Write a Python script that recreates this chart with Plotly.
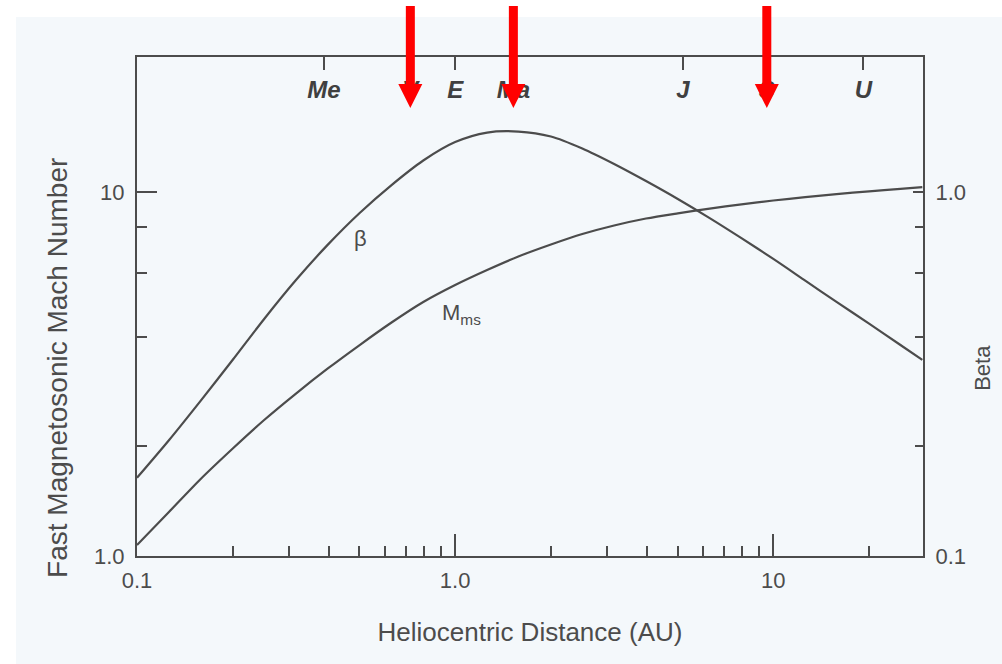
import math
import plotly.graph_objects as go

# ---- data ----
dist_au = [0.1, 0.126, 0.158, 0.2, 0.251, 0.316, 0.398, 0.501, 0.631, 0.794, 1.0, 1.26, 1.58,
           2.0, 2.51, 3.16, 3.98, 5.01, 6.31, 7.94, 10.0, 12.6, 15.8, 20.0, 25.1, 29.4]
beta_val = [0.164, 0.208, 0.266, 0.346, 0.448, 0.573, 0.717, 0.876, 1.045, 1.221, 1.372,
            1.457, 1.466, 1.421, 1.317, 1.194, 1.072, 0.957, 0.848, 0.747, 0.655, 0.571,
            0.499, 0.435, 0.380, 0.346]
mms_val = [1.072, 1.321, 1.623, 1.974, 2.364, 2.795, 3.275, 3.799, 4.380, 4.987, 5.553,
           6.106, 6.650, 7.173, 7.665, 8.091, 8.456, 8.739, 9.003, 9.252, 9.477, 9.683,
           9.874, 10.04, 10.20, 10.31]

planet_names = ["Me", "V", "E", "Ma", "J", "S", "U"]
planet_au = [0.387, 0.723, 1.0, 1.524, 5.2, 9.54, 19.2]
arrow_planets = ["V", "Ma", "S"]

x_tickvals = [0.1, 1, 10]
x_ticktext = ["0.1", "1.0", "10"]
x_minor = [0.2, 0.3, 0.4, 0.5, 0.6, 0.7, 0.8, 0.9, 2, 3, 4, 5, 6, 7, 8, 9, 20]
yl_tickvals = [1, 10]
yl_ticktext = ["1.0", "10"]
yl_minor = [2, 4, 6, 8]
yr_tickvals = [0.1, 1]
yr_ticktext = ["0.1", "1.0"]
yr_minor = [0.2, 0.4, 0.6, 0.8]

# ---- styling ----
INK = "#4c4c4c"
FONT = "Liberation Sans, Arial, sans-serif"
BG = "#f4f8fb"
XR = [-1, 1.4705]
YL = [0, 1.371]
YR = [-1, 0.371]

fig = go.Figure()
fig.add_trace(go.Scatter(x=dist_au, y=mms_val, mode="lines", xaxis="x", yaxis="y",
                         line=dict(color=INK, width=2.2, shape="spline", smoothing=0.8),
                         showlegend=False, hoverinfo="skip"))
fig.add_trace(go.Scatter(x=dist_au, y=beta_val, mode="lines", xaxis="x2", yaxis="y2",
                         line=dict(color=INK, width=2.2, shape="spline", smoothing=0.8),
                         showlegend=False, hoverinfo="skip"))

axcommon = dict(type="log", showgrid=False, zeroline=False, showline=True,
                linecolor=INK, linewidth=2, tickcolor=INK)

fig.update_layout(
    width=1002, height=664,
    margin=dict(l=137, r=79, t=57, b=108),
    paper_bgcolor="white", plot_bgcolor="rgba(0,0,0,0)",
    font=dict(family=FONT, color=INK),
    xaxis=dict(**axcommon, range=XR, tickmode="array", tickvals=x_tickvals, ticktext=x_ticktext,
               ticks="inside", ticklen=22, tickwidth=2, ticklabelstandoff=4,
               tickfont=dict(size=22, color=INK),
               minor=dict(ticks="inside", ticklen=10, tickwidth=1.5, tickcolor=INK,
                          tickmode="array", tickvals=x_minor, showgrid=False),
               title=dict(text="Heliocentric Distance (AU)", font=dict(size=26, color=INK),
                          standoff=30)),
    xaxis2=dict(**axcommon, range=XR, overlaying="x", side="top", anchor="y2",
                tickmode="array", tickvals=planet_au, ticktext=planet_names,
                ticks="inside", ticklen=13, tickwidth=2, ticklabelposition="inside",
                ticklabelstandoff=13,
                tickfont=dict(size=24, color="#404040", weight="bold", style="italic")),
    yaxis=dict(**axcommon, range=YL, tickmode="array", tickvals=yl_tickvals, ticktext=yl_ticktext,
               ticks="inside", ticklen=20, tickwidth=2, ticklabelstandoff=6,
               tickfont=dict(size=22, color=INK),
               minor=dict(ticks="inside", ticklen=10, tickwidth=1.5, tickcolor=INK,
                          tickmode="array", tickvals=yl_minor, showgrid=False)),
    yaxis2=dict(**axcommon, range=YR, overlaying="y", side="right", anchor="x",
                tickmode="array", tickvals=yr_tickvals, ticktext=yr_ticktext,
                ticks="inside", ticklen=10, tickwidth=2, ticklabelstandoff=6,
                tickfont=dict(size=22, color=INK),
                minor=dict(ticks="inside", ticklen=8, tickwidth=1.5, tickcolor=INK,
                           tickmode="array", tickvals=yr_minor, showgrid=False)),
)

# light scanned-page background
fig.add_shape(type="rect", xref="paper", yref="paper", x0=-0.154, x1=1.2, y0=-0.35, y1=1.0802,
              fillcolor=BG, line=dict(width=0), layer="below")

# y-axis titles (placed off-centre as in the original)
fig.add_annotation(text="Fast Magnetosonic Mach Number", xref="paper", yref="paper",
                   x=-0.1005, y=0.377, xanchor="center", yanchor="middle",
                   textangle=-90, showarrow=False,
                   font=dict(size=28, color=INK, family=FONT))
fig.add_annotation(text="Beta", xref="paper", yref="paper",
                   x=1.0763, y=0.377, xanchor="center", yanchor="middle",
                   textangle=-90, showarrow=False,
                   font=dict(size=22, color=INK, family=FONT))

# curve labels
fig.add_annotation(text="β", xref="x", yref="y", x=math.log10(0.503), y=math.log10(7.47),
                   showarrow=False, font=dict(size=22, color=INK, family=FONT))
fig.add_annotation(text="M<sub>ms</sub>", xref="x", yref="y", x=math.log10(0.897),
                   y=math.log10(4.63), xanchor="left", showarrow=False,
                   font=dict(size=22, color=INK, family=FONT))

# red arrows pointing at selected planets
for name, au in zip(planet_names, planet_au):
    if name in arrow_planets:
        fig.add_shape(type="path", xref="x", yref="paper", xsizemode="pixel", ysizemode="pixel",
                      xanchor=au, yanchor=1,
                      path="M -4.5,51 L 4.5,51 L 4.5,-30 L -4.5,-30 Z",
                      fillcolor="#ff0000", line=dict(width=0), layer="above")
        fig.add_shape(type="path", xref="x", yref="paper", xsizemode="pixel", ysizemode="pixel",
                      xanchor=au, yanchor=1,
                      path="M -12,-27 L 12,-27 L 0,-51 Z",
                      fillcolor="#ff0000", line=dict(width=0), layer="above")

fig.write_html("out.html")
